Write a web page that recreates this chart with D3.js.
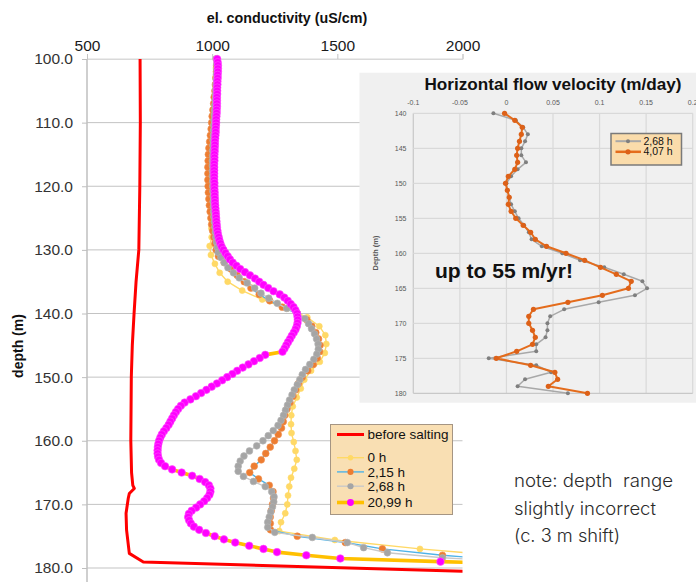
<!DOCTYPE html>
<html>
<head>
<meta charset="utf-8">
<script src="https://cdn.jsdelivr.net/npm/d3@7"></script>
<style>
  body { margin: 0; background: #fff; }
  svg { display: block; }
</style>
</head>
<body>
<svg id="chart" width="696" height="582"></svg>
<script>
// ---------- conductivity logs (uS/cm) ----------
const seriesNames = ["before salting", "0 h", "2,15 h", "2,68 h", "20,99 h"];

// background log, given as depth / conductivity vertices
const beforeDepths = [100, 110, 120, 130, 135, 140, 145, 150, 155, 160, 165, 167, 167.5, 168.3, 169, 171.4, 174, 177.7, 179.05, 180.5, 181.5];
const beforeCond   = [712, 713, 711, 707, 696, 688, 681, 677, 676, 675, 678, 683, 689, 669, 665, 656, 658, 669, 725, 2000, 2700];

// 0 h log, every 1.4 m from 100 m
const start0h = 100, step0h = 1.4;
const cond0h = [
  1015, 1015, 1014, 1012, 1010, 1008, 1006, 1004, 1002, 1000,
  998, 996, 995, 994, 994, 994, 994, 995, 996, 997,
  998, 990, 995, 1011, 1030, 1062, 1120, 1200, 1300, 1380,
  1428, 1452, 1456, 1450, 1430, 1395, 1368, 1354, 1338, 1322,
  1316, 1315, 1317, 1326, 1333, 1338, 1328, 1315, 1308, 1303,
  1300, 1292, 1275, 1268, 1490, 1830, 2250, 2500
];

// 2,15 h log, every 1 m from 100 m
const start215h = 100, step215h = 1.0;
const cond215h = [
  1018, 1018, 1017, 1015, 1013, 1011, 1008, 1006, 1003, 1000,
  998, 996, 993, 990, 987, 985, 984, 983, 983, 983,
  984, 985, 987, 989, 992, 995, 998, 1002, 1007, 1011,
  1016, 1025, 1048, 1075, 1100, 1128, 1155, 1188, 1230, 1280,
  1340, 1378, 1398, 1414, 1425, 1431, 1429, 1420, 1404, 1382,
  1360, 1345, 1334, 1323, 1311, 1299, 1290, 1284, 1277, 1264,
  1249, 1232, 1214, 1196, 1168, 1150, 1185, 1228, 1243, 1245,
  1241, 1236, 1232, 1232, 1233, 1340, 1532, 1680, 1920, 2250,
  2500
];

// 2,68 h log, every 0.8 m from 100 m
const start268h = 100, step268h = 0.8;
const cond268h = [
  1016, 1018, 1018, 1017, 1016, 1015, 1014, 1013, 1012, 1011,
  1010, 1009, 1008, 1007, 1006, 1005, 1004, 1003, 1002, 1002,
  1001, 1001, 1001, 1001, 1002, 1002, 1003, 1004, 1004, 1005,
  1006, 1007, 1009, 1011, 1013, 1015, 1018, 1021, 1024, 1035,
  1048, 1063, 1085, 1108, 1140, 1170, 1195, 1226, 1260, 1298,
  1340, 1370, 1385, 1397, 1409, 1417, 1423, 1424, 1418, 1406,
  1390, 1373, 1360, 1350, 1340, 1328, 1319, 1309, 1301, 1293,
  1285, 1275, 1263, 1244, 1224, 1203, 1178, 1149, 1127, 1112,
  1104, 1104, 1125, 1165, 1212, 1238, 1247, 1246, 1241, 1234,
  1228, 1222, 1222, 1250, 1400, 1540, 1605, 1700, 1920, 2300
];

// 20,99 h log, every 0.5 m from 100 m
const start2099h = 100, step2099h = 0.5;
const cond2099h = [
  1020, 1022, 1023, 1023, 1023, 1022, 1022, 1021, 1021, 1020,
  1020, 1020, 1019, 1019, 1019, 1019, 1018, 1018, 1017, 1016,
  1016, 1015, 1014, 1014, 1013, 1012, 1011, 1011, 1010, 1010,
  1009, 1009, 1009, 1008, 1008, 1008, 1008, 1008, 1008, 1009,
  1009, 1009, 1010, 1010, 1011, 1011, 1012, 1013, 1014, 1015,
  1016, 1017, 1018, 1019, 1021, 1023, 1026, 1029, 1033, 1038,
  1045, 1053, 1062, 1071, 1082, 1097, 1112, 1131, 1151, 1171,
  1188, 1205, 1224, 1245, 1270, 1288, 1302, 1314, 1325, 1333,
  1339, 1341, 1342, 1341, 1338, 1333, 1326, 1318, 1311, 1303,
  1296, 1289, 1281, 1212, 1190, 1167, 1145, 1122, 1100, 1081,
  1060, 1040, 1019, 998, 977, 956, 935, 913, 890, 875,
  864, 855, 847, 840, 833, 826, 817, 807, 799, 793,
  788, 785, 783, 782, 782, 784, 788, 796, 812, 840,
  878, 920, 950, 972, 987, 993, 993, 989, 980, 968,
  952, 936, 918, 907, 904, 908, 915, 927, 948, 975,
  1010, 1047, 1092, 1148, 1205, 1259, 1376, 1512, 1912, 2400
];

const condTicks = [500, 1000, 1500, 2000];
const depthTicks = [100, 110, 120, 130, 140, 150, 160, 170, 180];

// ---------- flow velocity (m/day) ----------
const flowNames = ["2,68 h", "4,07 h"];
const flowDepths = d3.range(140, 181, 1);
const vel268h = [
  -0.014, 0.010, 0.018, 0.023, 0.020, 0.016, 0.016, 0.021, 0.012, 0.005,
  0.000, 0.001, 0.003, 0.005, 0.009, 0.013, 0.019, 0.024, 0.027, 0.038,
  0.060, 0.079, 0.105, 0.126, 0.146, 0.151, 0.138, 0.099, 0.062, 0.047,
  0.044, 0.044, 0.042, 0.032, 0.032, -0.019, 0.032, 0.048, 0.020, 0.012,
  0.066
];
const vel407h = [
  -0.002, 0.009, 0.017, 0.016, 0.014, 0.012, 0.011, 0.012, 0.009, 0.002,
  -0.001, 0.001, 0.003, 0.002, 0.005, 0.010, 0.018, 0.026, 0.031, 0.043,
  0.064, 0.084, 0.101, 0.118, 0.134, 0.131, 0.103, 0.066, 0.029, 0.024,
  0.024, 0.028, 0.031, 0.028, 0.011, -0.011, 0.026, 0.052, 0.055, 0.045,
  0.087
];
const velTicks = [-0.1, -0.05, 0, 0.05, 0.1, 0.15, 0.2];
const velTickLabels = ["-0.1", "-0.05", "0", "0.05", "0.1", "0.15", "0.2"];
const flowDepthTicks = [140, 145, 150, 155, 160, 165, 170, 175, 180];

// ---------- helpers ----------
const grid = (start, step, n) => d3.range(n).map(i => +(start + i * step).toFixed(2));
const pairs = (depths, vals) => depths.map((z, i) => ({ z, v: vals[i] }));

const svg = d3.select("#chart");
const FONT = "'Liberation Sans', Arial, sans-serif";

// ---------- main chart ----------
const cond = d3.scaleLinear().domain([500, 2000]).range([87, 462.5]);
const depth = d3.scaleLinear().domain([100, 182]).range([59, 59 + 82 * 6.3625]);

svg.append("defs").append("clipPath").attr("id", "plotClip")
  .append("rect").attr("x", 87).attr("y", 45).attr("width", 375.5).attr("height", 540);

// horizontal gridlines
svg.append("g").selectAll("line").data(depthTicks).join("line")
  .attr("x1", 87).attr("x2", 462.5)
  .attr("y1", d => depth(d)).attr("y2", d => depth(d))
  .attr("stroke", d => d === 100 ? "#d9d9d9" : "#c3c3c3").attr("stroke-width", 1);

// top axis
const topAxis = svg.append("g").attr("transform", `translate(0,${depth(100)})`)
  .call(d3.axisTop(cond).tickValues(condTicks).tickSize(5).tickPadding(3).tickFormat(d3.format("d")));
topAxis.select(".domain").attr("stroke", "#d9d9d9");
topAxis.selectAll(".tick line").attr("stroke", "#c3c3c3");
topAxis.selectAll("text").attr("font-family", FONT).attr("font-size", 15.5).attr("fill", "#1a1a1a");

// left axis
const leftAxis = svg.append("g").attr("transform", `translate(87,0)`)
  .call(d3.axisLeft(depth).tickValues(depthTicks).tickSize(5).tickPadding(9).tickFormat(d3.format(".1f")));
leftAxis.select(".domain").attr("stroke", "#bfbfbf").attr("stroke-width", 1.5)
  .attr("d", `M0,${depth(100)}V582`);
leftAxis.selectAll(".tick line").attr("stroke", "#bfbfbf");
leftAxis.selectAll("text").attr("font-family", FONT).attr("font-size", 15.5).attr("fill", "#333");

// axis titles
svg.append("text").attr("x", 287).attr("y", 23).attr("text-anchor", "middle")
  .attr("font-family", FONT).attr("font-weight", "bold").attr("font-size", 14.3)
  .attr("fill", "#111").text("el. conductivity (uS/cm)");
svg.append("text").attr("transform", "translate(23,346) rotate(-90)").attr("text-anchor", "middle")
  .attr("font-family", FONT).attr("font-weight", "bold").attr("font-size", 14)
  .attr("fill", "#111").text("depth (m)");

const plot = svg.append("g").attr("clip-path", "url(#plotClip)");
const line = d3.line().x(d => cond(d.v)).y(d => depth(d.z));

const profiles = [
  { name: seriesNames[1], data: pairs(grid(start0h, step0h, cond0h.length), cond0h),
    line: "#ffd966", lw: 1.4, dot: "#ffd966", dotStroke: "#ffd966", r: 3 },
  { name: seriesNames[2], data: pairs(grid(start215h, step215h, cond215h.length), cond215h),
    line: "#4fb3e8", lw: 1.4, dot: "#ed7d31", dotStroke: "#f09050", r: 3.4 },
  { name: seriesNames[3], data: pairs(grid(start268h, step268h, cond268h.length), cond268h),
    line: "#c9c9c9", lw: 1.4, dot: "#a5a5a5", dotStroke: "#b5b5b5", r: 3.4 },
  { name: seriesNames[4], data: pairs(grid(start2099h, step2099h, cond2099h.length), cond2099h),
    line: "#ffc000", lw: 3.6, dot: "#ff00ff", dotStroke: "#ff55ff", r: 3.8 }
];

// background log
plot.append("path").datum(pairs(beforeDepths, beforeCond))
  .attr("d", line).attr("fill", "none").attr("stroke", "#ff0000").attr("stroke-width", 3)
  .attr("stroke-linejoin", "round");

profiles.forEach(p => {
  const g = plot.append("g");
  g.append("path").datum(p.data).attr("d", line).attr("fill", "none")
    .attr("stroke", p.line).attr("stroke-width", p.lw).attr("stroke-linejoin", "round");
  g.selectAll("circle").data(p.data).join("circle")
    .attr("cx", d => cond(d.v)).attr("cy", d => depth(d.z)).attr("r", p.r)
    .attr("fill", p.dot).attr("stroke", p.dotStroke).attr("stroke-width", 0.6);
});

// legend
const lg = svg.append("g");
lg.append("rect").attr("x", 330.5).attr("y", 424.5).attr("width", 122).attr("height", 90)
  .attr("fill", "#f9dfb3").attr("stroke", "#a59583").attr("stroke-width", 1);
const legendRows = [
  { name: seriesNames[0], y: 434.5, line: "#ff0000", lw: 3, dot: null },
  ...profiles.map((p, i) => ({ name: p.name, y: [457.7, 471.9, 486.2, 502.5][i], line: p.line, lw: p.lw, dot: p.dot, r: p.r }))
];
legendRows.forEach(row => {
  lg.append("line").attr("x1", 337).attr("x2", 364).attr("y1", row.y).attr("y2", row.y)
    .attr("stroke", row.line).attr("stroke-width", row.lw);
  if (row.dot) lg.append("circle").attr("cx", 350.5).attr("cy", row.y).attr("r", row.r * 0.9)
    .attr("fill", row.dot);
  lg.append("text").attr("x", 367.5).attr("y", row.y).attr("dy", "0.35em")
    .attr("font-family", FONT).attr("font-size", 13.5).attr("fill", "#111").text(row.name);
});

// ---------- inset: flow velocity ----------
const inset = svg.append("g");
inset.append("rect").attr("x", 359.5).attr("y", 72.7).attr("width", 337).attr("height", 330)
  .attr("fill", "#f0f0f0");

const vx = d3.scaleLinear().domain([-0.1, 0.2]).range([413.3, 692.7]);
const vy = d3.scaleLinear().domain([140, 180]).range([113.3, 393.3]);

inset.append("g").selectAll("line").data(velTicks).join("line")
  .attr("x1", d => vx(d)).attr("x2", d => vx(d)).attr("y1", vy(140)).attr("y2", vy(180))
  .attr("stroke", (d, i) => i === 0 ? "#c8c8c8" : "#d9d9d9").attr("stroke-width", 1.2);
inset.append("g").selectAll("line").data(flowDepthTicks).join("line")
  .attr("x1", vx(-0.1)).attr("x2", vx(0.2)).attr("y1", d => vy(d)).attr("y2", d => vy(d))
  .attr("stroke", d => d === 180 ? "#c8c8c8" : "#d9d9d9").attr("stroke-width", 1.2);

inset.append("g").selectAll("text").data(velTicks).join("text")
  .attr("x", d => vx(d)).attr("y", 102.7).attr("dy", "0.35em").attr("text-anchor", "middle")
  .attr("font-family", FONT).attr("font-size", 7).attr("fill", "#595959")
  .text((d, i) => velTickLabels[i]);
inset.append("g").selectAll("text").data(flowDepthTicks).join("text")
  .attr("x", 406.5).attr("y", d => vy(d)).attr("dy", "0.35em").attr("text-anchor", "end")
  .attr("font-family", FONT).attr("font-size", 7).attr("fill", "#595959").text(d => d);

inset.append("text").attr("x", 553).attr("y", 90).attr("text-anchor", "middle")
  .attr("font-family", FONT).attr("font-weight", "bold").attr("font-size", 17)
  .attr("textLength", 257).attr("lengthAdjust", "spacingAndGlyphs")
  .attr("fill", "#111").text("Horizontal flow velocity (m/day)");
inset.append("text").attr("transform", "translate(377.5,253) rotate(-90)").attr("text-anchor", "middle")
  .attr("font-family", FONT).attr("font-weight", "bold").attr("font-size", 7.5)
  .attr("fill", "#595959").text("Depth (m)");

const vline = d3.line().x(d => vx(d.v)).y(d => vy(d.z));
const flows = [
  { name: flowNames[0], data: pairs(flowDepths, vel268h), line: "#a8a8a8", lw: 1.5, dot: "#7f7f7f", r: 2 },
  { name: flowNames[1], data: pairs(flowDepths, vel407h), line: "#e46c1c", lw: 2, dot: "#dd6118", r: 2.6 }
];
flows.forEach(f => {
  inset.append("path").datum(f.data).attr("d", vline).attr("fill", "none")
    .attr("stroke", f.line).attr("stroke-width", f.lw).attr("stroke-linejoin", "round");
  inset.append("g").selectAll("circle").data(f.data).join("circle")
    .attr("cx", d => vx(d.v)).attr("cy", d => vy(d.z)).attr("r", f.r).attr("fill", f.dot);
});

inset.append("text").attr("x", 435).attr("y", 278)
  .attr("font-family", FONT).attr("font-weight", "bold").attr("font-size", 20)
  .attr("textLength", 138).attr("lengthAdjust", "spacingAndGlyphs")
  .attr("fill", "#111").text("up to 55 m/yr!");

// inset legend
const ilg = inset.append("g");
ilg.append("rect").attr("x", 611).attr("y", 133.5).attr("width", 70.5).attr("height", 31.5)
  .attr("fill", "#fadcab").attr("stroke", "#7a7a7a").attr("stroke-width", 1.5);
flows.forEach((f, i) => {
  const y = [141.2, 151.8][i];
  ilg.append("line").attr("x1", 615.5).attr("x2", 641).attr("y1", y).attr("y2", y)
    .attr("stroke", f.line).attr("stroke-width", f.lw + 0.5);
  ilg.append("circle").attr("cx", 628).attr("cy", y).attr("r", f.r).attr("fill", f.dot);
  ilg.append("text").attr("x", 643.5).attr("y", y).attr("dy", "0.35em")
    .attr("font-family", FONT).attr("font-size", 10.5).attr("fill", "#111").text(f.name);
});

// ---------- note ----------
const noteLines = ["note: depth  range", "slightly incorrect", "(c. 3 m shift)"];
const noteWidths = [159, 142, 106];
svg.append("g").selectAll("text").data(noteLines).join("text")
  .attr("x", 514).attr("y", (d, i) => 487 + i * 27.5)
  .attr("font-family", "Inter, Roboto, sans-serif").attr("font-weight", 300)
  .attr("font-size", 18).attr("fill", "#2b2b2b")
  .attr("textLength", (d, i) => noteWidths[i]).attr("lengthAdjust", "spacingAndGlyphs")
  .style("white-space", "pre").text(d => d);
</script>
</body>
</html>
